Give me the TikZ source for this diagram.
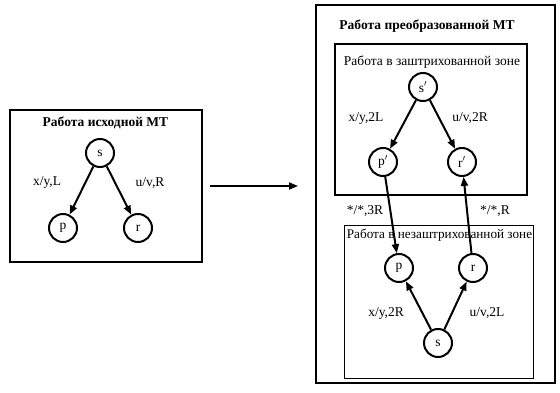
\documentclass[tikz,border=0pt]{standalone}
\usepackage{fontspec}
\setmainfont{Liberation Serif}
\usetikzlibrary{arrows.meta}
\begin{document}
\begin{tikzpicture}[x=1pt,y=-1pt,
  st/.style={circle,draw,line width=2pt,minimum size=28pt,inner sep=0pt,font=\fontsize{13.5}{15}\selectfont},
  lbl/.style={font=\fontsize{13.5}{15}\selectfont,inner sep=0pt},
  ttl/.style={font=\bfseries\fontsize{13.5}{15}\selectfont,inner sep=0pt},
  sub/.style={font=\fontsize{13.5}{15}\selectfont,inner sep=0pt},
  box/.style={draw,line width=2.4pt},
  tbox/.style={draw,line width=1pt},
  arr/.style={line width=2pt,-{Triangle[length=9pt,width=7pt]}}]
\useasboundingbox (0,0) rectangle (560,393);
% left
\node[box,minimum width=192pt,minimum height=152pt,inner sep=0pt] (L) at (106,186) {};
\node[ttl] (Lt) at (105.5,123) {Работа исходной МТ};
\node[st] (s0) at (100,153) {s};
\node[st] (p0) at (63,228) {p};
\node[st] (r0) at (138,228) {r};
\draw[arr] (s0) -- (p0);
\draw[arr] (s0) -- (r0);
\node[lbl] (l1) at (47,183) {x/y,L};
\node[lbl] (l2) at (150,183) {u/v,R};
% middle arrow
\coordinate (a1) at (210,186);
\coordinate (a2) at (298,186);
\draw[line width=1.8pt,-{Triangle[length=9pt,width=7pt]}] (a1) -- (a2);
% right
\node[box,minimum width=239pt,minimum height=378pt,inner sep=0pt] (R) at (435.5,194) {};
\node[ttl] (Rt) at (427,26) {Работа преобразованной МТ};
\node[box,minimum width=192pt,minimum height=151pt,inner sep=0pt] (Z1) at (431,119.5) {};
\node[sub] (Z1t) at (432,62) {Работа в заштрихованной зоне};
\node[tbox,minimum width=189pt,minimum height=153pt,inner sep=0pt] (Z2) at (438.5,301.5) {};
\node[sub,font=\fontsize{13.2}{15}\selectfont] (Z2t) at (439.5,235) {Работа в незаштрихованной зоне};
\node[st] (s1) at (423,87) {s$'$};
\node[st] (p1) at (383,162) {p$'$};
\node[st] (r1) at (462,162) {r$'$};
\draw[arr] (s1) -- (p1);
\draw[arr] (s1) -- (r1);
\node[lbl] (l3) at (366,118) {x/y,2L};
\node[lbl] (l4) at (470,118) {u/v,2R};
\node[st] (p2) at (399,268) {p};
\node[st] (r2) at (473,268) {r};
\node[st] (s2) at (438,343) {s};
\draw[arr] (s2) -- (p2);
\draw[arr] (s2) -- (r2);
\node[lbl] (l5) at (386,313) {x/y,2R};
\node[lbl] (l6) at (487,313) {u/v,2L};
\draw[arr] (p1) -- (p2);
\draw[arr] (r2) -- (r1);
\node[lbl] (l7) at (365,211) {*/*,3R};
\node[lbl] (l8) at (495,211) {*/*,R};
\end{tikzpicture}
\end{document}
